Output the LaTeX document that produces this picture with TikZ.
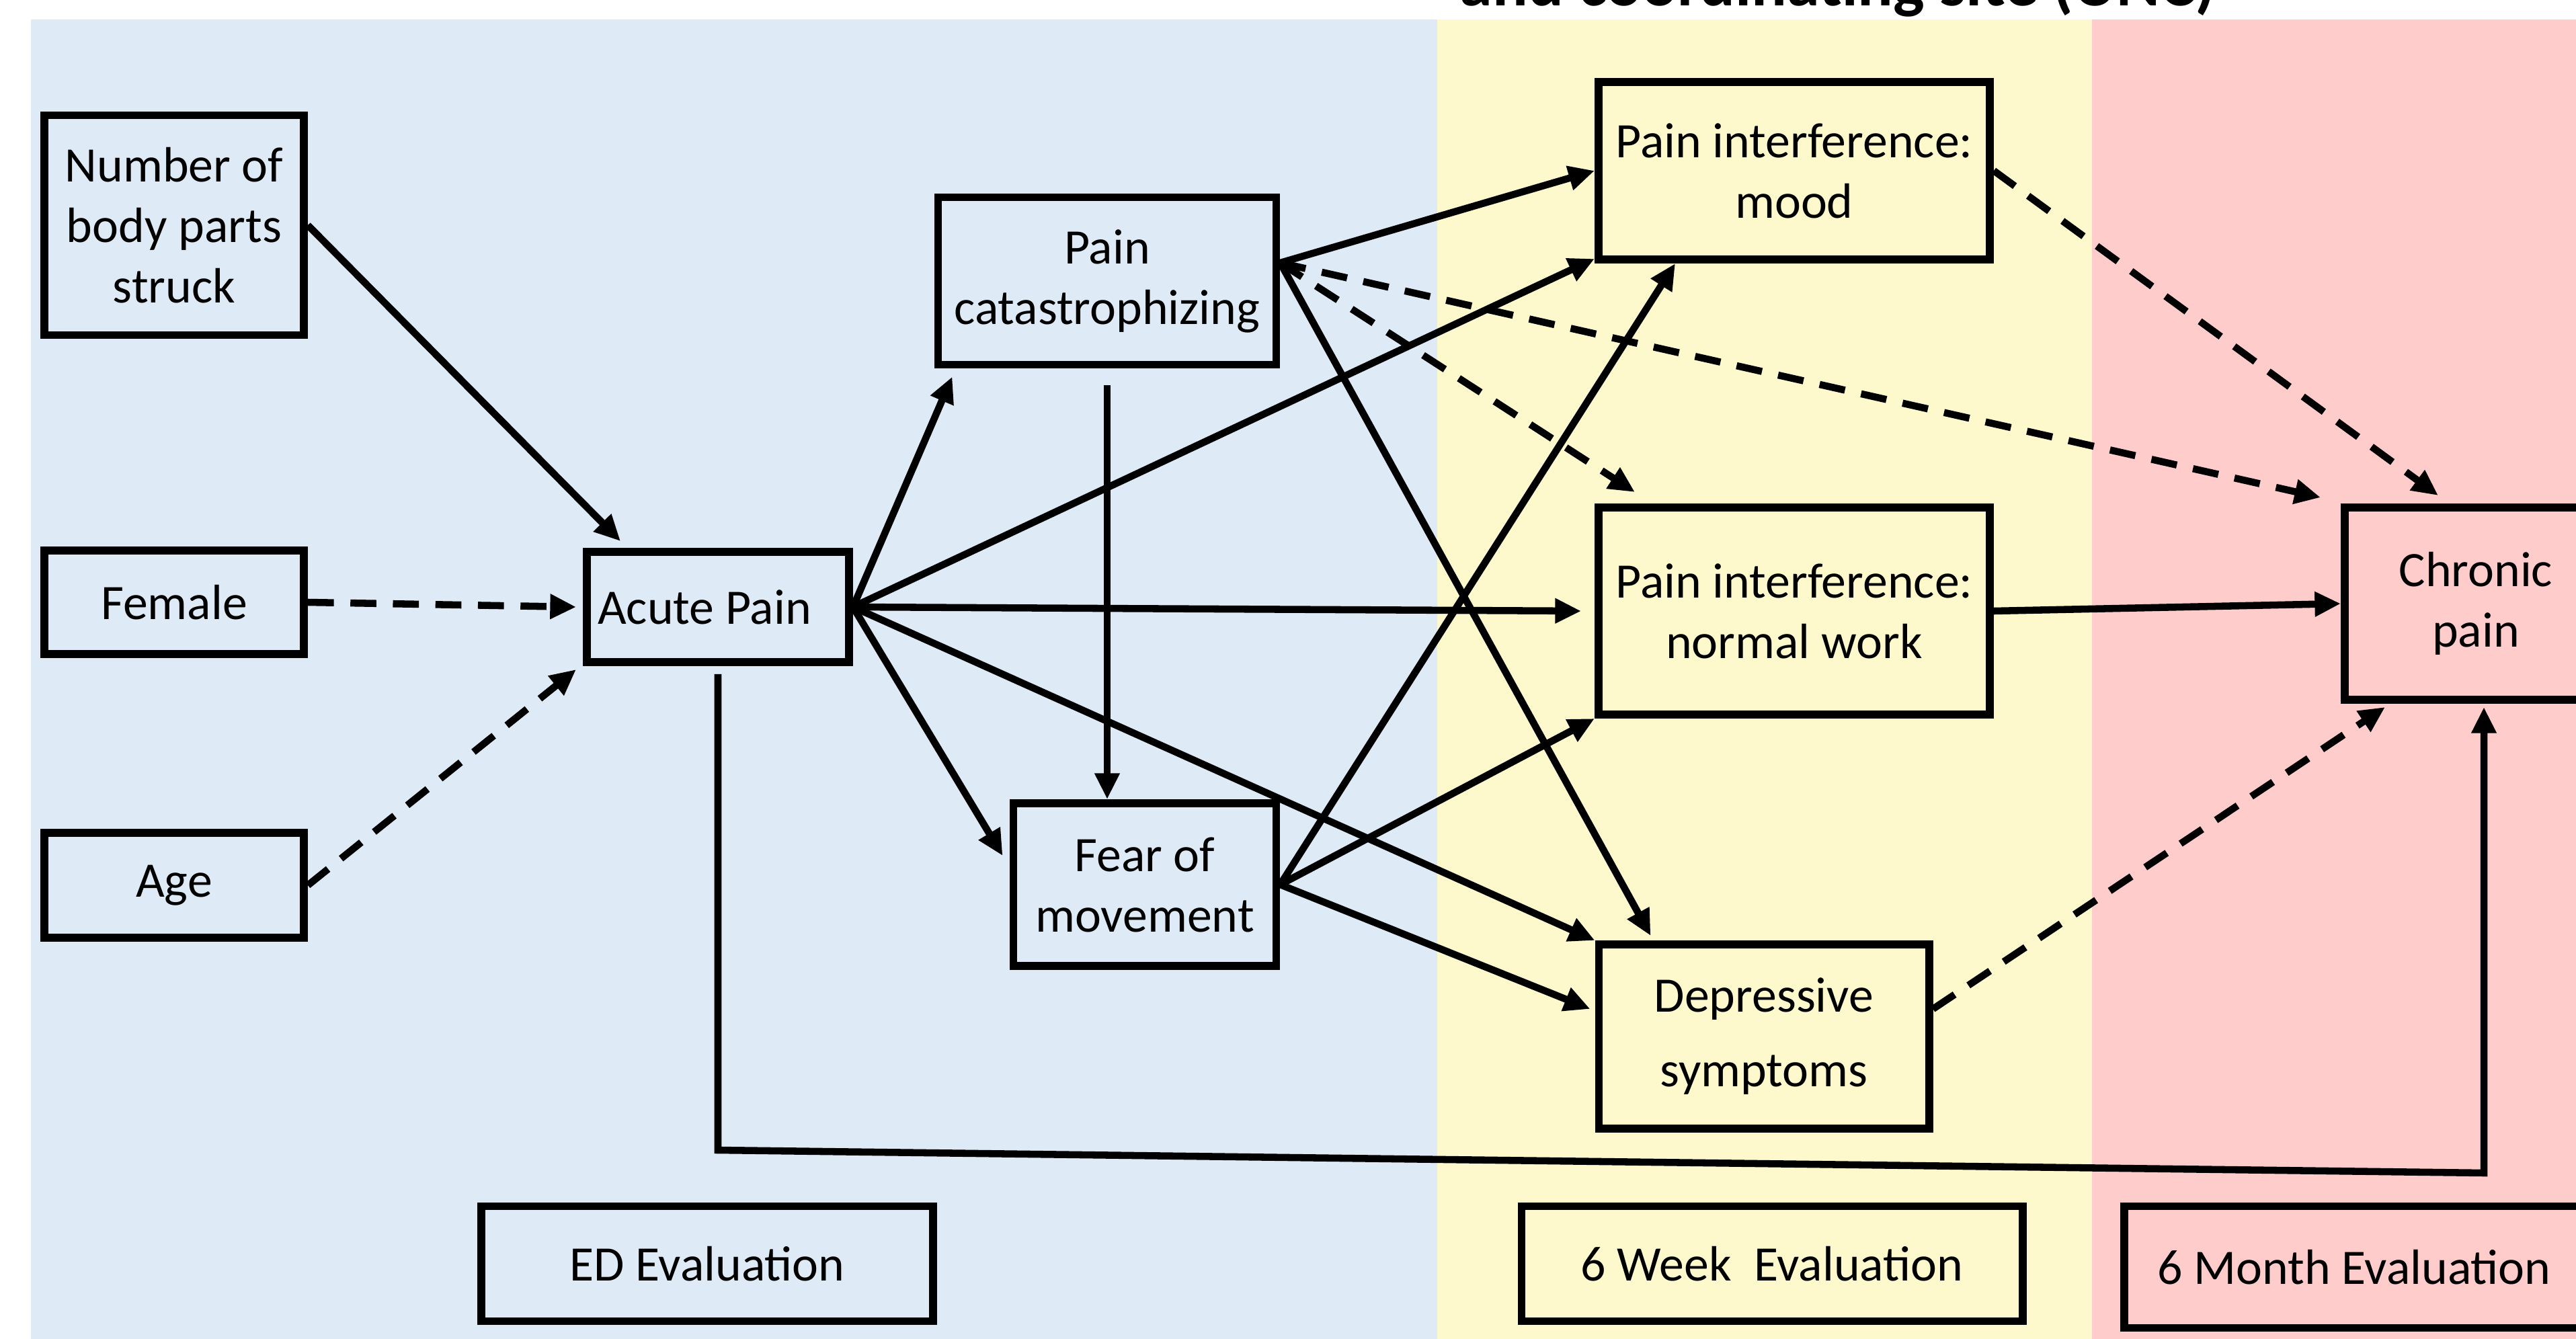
\documentclass[tikz,border=0pt]{standalone}
\usepackage{fontspec}
\setmainfont{Carlito}
\usetikzlibrary{arrows.meta}
\definecolor{edblue}{HTML}{DEEAF6}
\definecolor{wkyellow}{HTML}{FEF9CC}
\definecolor{mopink}{HTML}{FFCCCC}
\tikzset{
  box/.style={draw,line width=3.4pt,align=center,inner sep=0pt,font=\fontsize{21}{25.6}\selectfont},
  arr/.style={line width=3pt,-{Triangle[length=11pt,width=10pt]}},
  darr/.style={arr,dash pattern=on 11pt off 7pt},
}

\begin{document}
\begin{tikzpicture}
\useasboundingbox (0,0) rectangle (38.32,-19.92);
\fill[edblue] (0.46,-0.29) rectangle (21.38,-19.92);
\fill[wkyellow] (21.38,-0.29) rectangle (31.12,-19.92);
\fill[mopink] (31.12,-0.29) rectangle (38.32,-19.92);
\node[anchor=base,font=\fontsize{28}{34}\selectfont\bfseries] (title) at (27.34,-0.09) {and coordinating site (UNC)};

% ED evaluation
\node[box,minimum width=3.86cm,minimum height=3.27cm] (body) at (2.59,-3.35) {Number of\\body parts\\struck};
\node[box,minimum width=3.86cm,minimum height=1.54cm] (female) at (2.59,-8.96) {Female};
\node[box,minimum width=3.86cm,minimum height=1.56cm] (age) at (2.59,-13.17) {Age};
\node[box,minimum width=3.90cm,minimum height=1.64cm] (acute) at (10.68,-9.03) {Acute Pain\hspace{0.4cm}};
\node[box,minimum width=5.03cm,minimum height=2.49cm] (cat) at (16.47,-4.18) {Pain\\catastrophizing};
\node[box,minimum width=3.91cm,minimum height=2.42cm] (fear) at (17.03,-13.16) {Fear of\\movement};

% 6 week
\node[box,minimum width=5.82cm,minimum height=2.64cm] (mood) at (26.69,-2.54) {Pain interference:\\mood};
\node[box,minimum width=5.82cm,minimum height=3.08cm] (work) at (26.69,-9.09) {Pain interference:\\normal work};
\node[box,minimum width=4.91cm,minimum height=2.74cm] (dep) at (26.24,-15.42) {Depressive\\[6pt]symptoms};

% 6 month
\node[box,minimum width=3.90cm,minimum height=2.86cm] (chronic) at (36.83,-8.98) {Chronic\\pain};

\node[box,minimum width=6.72cm,minimum height=1.71cm] (ed) at (10.52,-18.80) {ED Evaluation};
\node[box,minimum width=7.45cm,minimum height=1.71cm] (week) at (26.36,-18.80) {6 Week\ \ Evaluation};
\node[box,minimum width=6.84cm,minimum height=1.81cm] (month) at (35.02,-18.85) {6 Month Evaluation};

\draw[arr] (body.east) -- ([xshift=0.56cm,yshift=0.1cm]acute.north west);
\draw[darr] (female.east) -- ([xshift=-0.1cm]acute.west);
\draw[darr] (age.east) -- ([xshift=-0.1cm,yshift=-0.05cm]acute.south west);

\draw[arr] (acute.east) -- ([xshift=0.27cm,yshift=-0.12cm]cat.south west);
\draw[arr] (acute.east) -- ([yshift=0.07cm]mood.south west);
\draw[arr] (acute.east) -- ([xshift=-0.2cm]work.west);
\draw[arr] (acute.east) -- ([xshift=-0.1cm,yshift=0.43cm]fear.west);
\draw[arr] (acute.east) -- (dep.north west);

\coordinate (lowA) at (10.70,-17.11);
\coordinate (lowB) at (36.95,-17.45);
\draw[arr] ([yshift=-0.12cm]acute.south) -- (acute.south |- lowA) -- (lowB) -- ([yshift=-0.05cm]lowB |- chronic.south);

\coordinate (catR) at ([yshift=0.27cm]cat.east);
\draw[arr] (catR) -- (mood.west);
\draw[arr] ([yshift=-0.25cm]cat.south) -- (cat.south |- fear.north);
\draw[arr] (catR) -- ([xshift=0.83cm,yshift=0.07cm]dep.north west);
\draw[darr] (catR) -- ([xshift=0.6cm,yshift=0.17cm]work.north west);
\draw[darr] (catR) -- ([xshift=-0.3cm,yshift=0.09cm]chronic.north west);
\draw[darr] (mood.east) -- ([xshift=-0.56cm,yshift=0.12cm]chronic.north);

\draw[arr] (fear.east) -- ([xshift=1.2cm]mood.south west);
\draw[arr] (fear.east) -- (work.south west);
\draw[arr] (fear.east) -- ([xshift=-0.07cm,yshift=0.41cm]dep.west);

\draw[arr] (work.east) -- (chronic.west);
\draw[darr] ([yshift=0.41cm]dep.east) -- ([xshift=0.66cm,yshift=-0.05cm]chronic.south west);
\end{tikzpicture}
\end{document}
